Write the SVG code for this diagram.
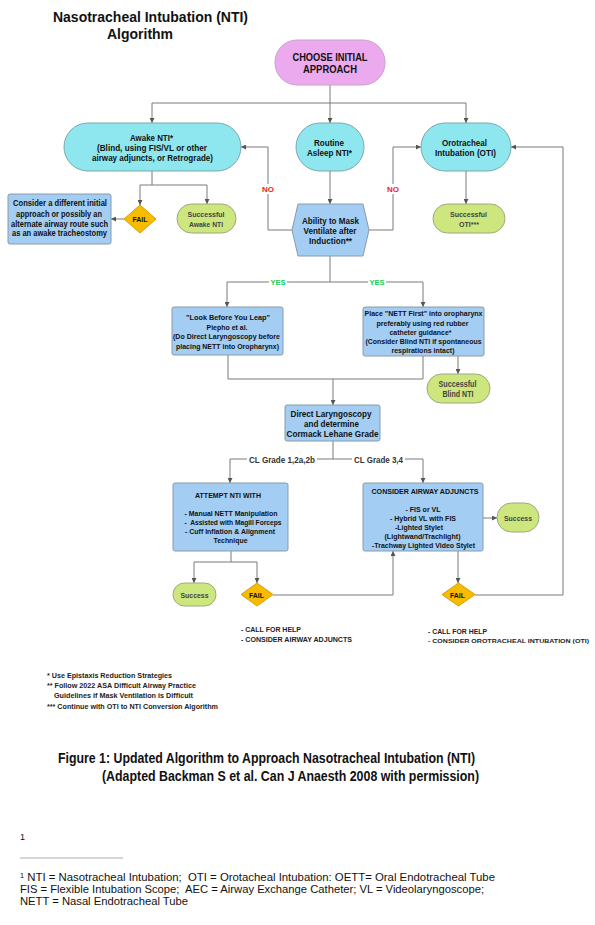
<svg xmlns="http://www.w3.org/2000/svg" width="595" height="925" viewBox="0 0 595 925">
<style>
.t{font-family:"Liberation Sans",Arial,sans-serif;font-weight:bold;text-anchor:middle;fill:#111}
.l{font-family:"Liberation Sans",Arial,sans-serif;font-weight:bold;fill:#222}
.c{fill:none;stroke:#7a7a7a;stroke-width:1}
.pink{fill:#ecaaee;stroke:#c9a0cc;stroke-width:1}
.cyan{fill:#8ee7ef;stroke:#7aa8ad;stroke-width:1}
.blue{fill:#a3cdf2;stroke:#8a9aaa;stroke-width:1}
.green{fill:#cde77e;stroke:#9aaa80;stroke-width:1}
.orange{fill:#f7bb00;stroke:#d8a000;stroke-width:1}
.g{fill:#444}
.bg{fill:#fff}
</style>
<defs>
<marker id="a" viewBox="0 0 6 6" refX="6" refY="3" markerWidth="5" markerHeight="5" orient="auto" markerUnits="userSpaceOnUse">
<path d="M0,0 L6,3 L0,6 z" fill="#555"/>
</marker>
</defs>
<rect width="595" height="925" fill="#fff"/>

<g id="title">
<text class="t" x="150.5" y="22" font-size="15" textLength="195" lengthAdjust="spacingAndGlyphs">Nasotracheal Intubation (NTI)</text>
<text class="t" x="140" y="39" font-size="15" textLength="66" lengthAdjust="spacingAndGlyphs">Algorithm</text>
</g>

<g id="connectors">
<path class="c" d="M330,85 V123" marker-end="url(#a)"/>
<path class="c" d="M152,103 H466"/>
<path class="c" d="M152,103 V123" marker-end="url(#a)"/>
<path class="c" d="M466,103 V123" marker-end="url(#a)"/>
<path class="c" d="M152,171 V185"/>
<path class="c" d="M140,185 H207"/>
<path class="c" d="M140,185 V205" marker-end="url(#a)"/>
<path class="c" d="M207,185 V204" marker-end="url(#a)"/>
<path class="c" d="M124,219 H111" marker-end="url(#a)"/>
<path class="c" d="M330,171 V204" marker-end="url(#a)"/>
<path class="c" d="M292,230 H268 V147 H241" marker-end="url(#a)"/>
<path class="c" d="M368,230 H393 V147 H421" marker-end="url(#a)"/>
<path class="c" d="M466,171 V204" marker-end="url(#a)"/>
<path class="c" d="M330,256 V282"/>
<path class="c" d="M227,282 H423"/>
<path class="c" d="M227,282 V307" marker-end="url(#a)"/>
<path class="c" d="M423,282 V307" marker-end="url(#a)"/>
<path class="c" d="M228,355 V379 H423 V356"/>
<path class="c" d="M333,379 V405" marker-end="url(#a)"/>
<path class="c" d="M458,356 V374" marker-end="url(#a)"/>
<path class="c" d="M333,441 V459"/>
<path class="c" d="M230,459 H423"/>
<path class="c" d="M230,459 V483" marker-end="url(#a)"/>
<path class="c" d="M423,459 V483" marker-end="url(#a)"/>
<path class="c" d="M483,518 H497" marker-end="url(#a)"/>
<path class="c" d="M231,551 V562"/>
<path class="c" d="M194,562 H257"/>
<path class="c" d="M194,562 V583" marker-end="url(#a)"/>
<path class="c" d="M257,562 V583" marker-end="url(#a)"/>
<path class="c" d="M273,595 H393 V551" marker-end="url(#a)"/>
<path class="c" d="M458,551 V583" marker-end="url(#a)"/>
<path class="c" d="M475,595 H563 V147 H511" marker-end="url(#a)"/>
<rect class="bg" x="261" y="184" width="14" height="10"/>
<text class="t" x="268" y="192" font-size="8" style="fill:#ee2222" textLength="12" lengthAdjust="spacingAndGlyphs">NO</text>
<rect class="bg" x="386" y="184" width="14" height="10"/>
<text class="t" x="393" y="192" font-size="8" style="fill:#ee2222" textLength="12" lengthAdjust="spacingAndGlyphs">NO</text>
<rect class="bg" x="269" y="277" width="18" height="10"/>
<text class="t" x="278" y="285" font-size="8" style="fill:#11cc55" textLength="15" lengthAdjust="spacingAndGlyphs">YES</text>
<rect class="bg" x="368" y="277" width="18" height="10"/>
<text class="t" x="377" y="285" font-size="8" style="fill:#11cc55" textLength="15" lengthAdjust="spacingAndGlyphs">YES</text>
<rect class="bg" x="247" y="454" width="70" height="11"/>
<text class="t" x="282" y="462.5" font-size="9" style="fill:#333" textLength="66" lengthAdjust="spacingAndGlyphs">CL Grade 1,2a,2b</text>
<rect class="bg" x="352" y="454" width="53" height="11"/>
<text class="t" x="378.5" y="462.5" font-size="9" style="fill:#333" textLength="49" lengthAdjust="spacingAndGlyphs">CL Grade 3,4</text>
</g>

<g id="choose">
<rect class="pink" x="275" y="40" width="110" height="45" rx="22"/>
<text class="t" x="330" y="61" font-size="10" textLength="75" lengthAdjust="spacingAndGlyphs">CHOOSE INITIAL</text>
<text class="t" x="330" y="73" font-size="10" textLength="54" lengthAdjust="spacingAndGlyphs">APPROACH</text>
</g>

<g id="awake">
<rect class="cyan" x="64" y="123" width="177" height="48" rx="24"/>
<text class="t" x="151.5" y="141" font-size="9" textLength="43" lengthAdjust="spacingAndGlyphs">Awake NTI*</text>
<text class="t" x="152" y="151" font-size="9" textLength="110" lengthAdjust="spacingAndGlyphs">(Blind, using FIS/VL or other</text>
<text class="t" x="152.5" y="161" font-size="9" textLength="121" lengthAdjust="spacingAndGlyphs">airway adjuncts, or Retrograde)</text>
</g>

<g id="routine">
<rect class="cyan" x="296" y="123" width="68" height="48" rx="24"/>
<text class="t" x="329" y="146" font-size="9" textLength="30" lengthAdjust="spacingAndGlyphs">Routine</text>
<text class="t" x="329.5" y="156" font-size="9" textLength="45" lengthAdjust="spacingAndGlyphs">Asleep NTI*</text>
</g>

<g id="oti">
<rect class="cyan" x="421" y="123" width="90" height="48" rx="24"/>
<text class="t" x="464.5" y="146" font-size="9" textLength="45" lengthAdjust="spacingAndGlyphs">Orotracheal</text>
<text class="t" x="465.5" y="156" font-size="9" textLength="61" lengthAdjust="spacingAndGlyphs">Intubation (OTI)</text>
</g>

<g id="consider-different">
<rect class="blue" x="8" y="194" width="103" height="50" rx="2"/>
<text class="t" x="60" y="206" font-size="8.5" textLength="94" lengthAdjust="spacingAndGlyphs">Consider a different initial</text>
<text class="t" x="59" y="216.5" font-size="8.5" textLength="86" lengthAdjust="spacingAndGlyphs">approach or possibly an</text>
<text class="t" x="59.5" y="226.5" font-size="8.5" textLength="97" lengthAdjust="spacingAndGlyphs">alternate airway route such</text>
<text class="t" x="59.5" y="236" font-size="8.5" textLength="95" lengthAdjust="spacingAndGlyphs">as an awake tracheostomy</text>
</g>

<g id="fail-awake">
<polygon class="orange" points="140,205 156,219 140,233 124,219"/>
<text class="t" x="140" y="222" font-size="8" textLength="15" lengthAdjust="spacingAndGlyphs">FAIL</text>
</g>

<g id="success-awake">
<rect class="green" x="177" y="204" width="59" height="29" rx="14.5"/>
<text class="t g" x="206" y="217" font-size="8" textLength="37" lengthAdjust="spacingAndGlyphs">Successful</text>
<text class="t g" x="206" y="227" font-size="8" textLength="34" lengthAdjust="spacingAndGlyphs">Awake NTI</text>
</g>

<g id="mask">
<polygon class="blue" points="298,204 363,204 369,230 363,256 298,256 292,230"/>
<text class="t" x="330.5" y="224" font-size="9" textLength="57" lengthAdjust="spacingAndGlyphs">Ability to Mask</text>
<text class="t" x="330" y="234" font-size="9" textLength="53" lengthAdjust="spacingAndGlyphs">Ventilate after</text>
<text class="t" x="330.5" y="244" font-size="9" textLength="43" lengthAdjust="spacingAndGlyphs">Induction**</text>
</g>

<g id="success-oti">
<rect class="green" x="433" y="204" width="72" height="29" rx="14.5"/>
<text class="t g" x="468.5" y="217" font-size="8" textLength="37" lengthAdjust="spacingAndGlyphs">Successful</text>
<text class="t g" x="469" y="227" font-size="8" textLength="20" lengthAdjust="spacingAndGlyphs">OTI***</text>
</g>

<g id="look">
<rect class="blue" x="172" y="307" width="111" height="48" rx="2"/>
<text class="t" x="228" y="320" font-size="8" textLength="84" lengthAdjust="spacingAndGlyphs">"Look Before You Leap"</text>
<text class="t" x="227" y="330" font-size="8" textLength="41" lengthAdjust="spacingAndGlyphs">Piepho et al.</text>
<text class="t" x="226.5" y="339" font-size="8" textLength="107" lengthAdjust="spacingAndGlyphs">(Do Direct Laryngoscopy before</text>
<text class="t" x="227.5" y="349" font-size="8" textLength="103" lengthAdjust="spacingAndGlyphs">placing NETT into Oropharynx)</text>
</g>

<g id="place">
<rect class="blue" x="363" y="307" width="121" height="49" rx="2"/>
<text class="t" x="423.5" y="316" font-size="8" textLength="118" lengthAdjust="spacingAndGlyphs">Place "NETT First" into oropharynx</text>
<text class="t" x="422.5" y="326" font-size="8" textLength="92" lengthAdjust="spacingAndGlyphs">preferably using red rubber</text>
<text class="t" x="420.5" y="335" font-size="8" textLength="62" lengthAdjust="spacingAndGlyphs">catheter guidance*</text>
<text class="t" x="423.5" y="344" font-size="8" textLength="116" lengthAdjust="spacingAndGlyphs">(Consider Blind NTI if spontaneous</text>
<text class="t" x="423" y="353" font-size="8" textLength="63" lengthAdjust="spacingAndGlyphs">respirations intact)</text>
</g>

<g id="success-blind">
<rect class="green" x="427" y="374" width="63" height="29" rx="14.5"/>
<text class="t g" x="457.5" y="387" font-size="8.5" textLength="38" lengthAdjust="spacingAndGlyphs">Successful</text>
<text class="t g" x="458" y="397" font-size="8.5" textLength="31" lengthAdjust="spacingAndGlyphs">Blind NTI</text>
</g>

<g id="dl">
<rect class="blue" x="285" y="405" width="95" height="36" rx="2"/>
<text class="t" x="331" y="416.5" font-size="9.5" textLength="81" lengthAdjust="spacingAndGlyphs">Direct Laryngoscopy</text>
<text class="t" x="331.5" y="426.5" font-size="9.5" textLength="55" lengthAdjust="spacingAndGlyphs">and determine</text>
<text class="t" x="332.5" y="437" font-size="9.5" textLength="92" lengthAdjust="spacingAndGlyphs">Cormack Lehane Grade</text>
</g>

<g id="attempt">
<rect class="blue" x="173" y="483" width="115" height="68" rx="2"/>
<text class="t" x="228" y="498" font-size="8" textLength="66" lengthAdjust="spacingAndGlyphs">ATTEMPT NTI WITH</text>
<text class="t" x="231" y="516" font-size="8" textLength="93" lengthAdjust="spacingAndGlyphs">- Manual NETT Manipulation</text>
<text class="t" x="233" y="525" font-size="8" xml:space="preserve" textLength="97" lengthAdjust="spacingAndGlyphs">-  Assisted with Magill Forceps</text>
<text class="t" x="230" y="534" font-size="8" textLength="90" lengthAdjust="spacingAndGlyphs">- Cuff Inflation &amp; Alignment</text>
<text class="t" x="230.5" y="543" font-size="8" textLength="34" lengthAdjust="spacingAndGlyphs">Technique</text>
</g>

<g id="adjuncts">
<rect class="blue" x="363" y="483" width="120" height="68" rx="2"/>
<text class="t" x="425" y="494" font-size="8" textLength="107" lengthAdjust="spacingAndGlyphs">CONSIDER AIRWAY ADJUNCTS</text>
<text class="t" x="423" y="512" font-size="8" textLength="35" lengthAdjust="spacingAndGlyphs">- FIS or VL</text>
<text class="t" x="423" y="521" font-size="8" textLength="66" lengthAdjust="spacingAndGlyphs">- Hybrid VL with FIS</text>
<text class="t" x="419" y="530" font-size="8" textLength="48" lengthAdjust="spacingAndGlyphs">-Lighted Stylet</text>
<text class="t" x="422.5" y="539" font-size="8" textLength="76" lengthAdjust="spacingAndGlyphs">(Lightwand/Trachlight)</text>
<text class="t" x="423.5" y="548" font-size="8" textLength="103" lengthAdjust="spacingAndGlyphs">-Trachway Lighted Video Stylet</text>
</g>

<g id="success-adjuncts">
<rect class="green" x="497" y="503" width="42" height="29" rx="14.5"/>
<text class="t g" x="518" y="521" font-size="8" textLength="28" lengthAdjust="spacingAndGlyphs">Success</text>
</g>

<g id="success-attempt">
<rect class="green" x="173" y="583" width="43" height="23" rx="11.5"/>
<text class="t g" x="194.5" y="597.5" font-size="8" textLength="28" lengthAdjust="spacingAndGlyphs">Success</text>
</g>

<g id="fail-attempt">
<polygon class="orange" points="257,583 273,594.5 257,606 241,594.5"/>
<text class="t" x="256.5" y="597.5" font-size="8" textLength="15" lengthAdjust="spacingAndGlyphs">FAIL</text>
</g>

<g id="fail-adjuncts">
<polygon class="orange" points="458.5,583 475,594.5 458.5,606 442,594.5"/>
<text class="t" x="457.5" y="597.5" font-size="8" textLength="15" lengthAdjust="spacingAndGlyphs">FAIL</text>
</g>

<g id="notes">
<text class="l" x="241" y="632" font-size="8" textLength="60" lengthAdjust="spacingAndGlyphs">- CALL FOR HELP</text>
<text class="l" x="241" y="642" font-size="8" textLength="111" lengthAdjust="spacingAndGlyphs">- CONSIDER AIRWAY ADJUNCTS</text>
<text class="l" x="428" y="633.5" font-size="8" textLength="59" lengthAdjust="spacingAndGlyphs">- CALL FOR HELP</text>
<text class="l" x="428" y="643" font-size="5.8" textLength="161" lengthAdjust="spacingAndGlyphs">- CONSIDER OROTRACHEAL INTUBATION (OTI)</text>
<text class="l" x="47" y="678" font-size="8" textLength="125" lengthAdjust="spacingAndGlyphs">* Use Epistaxis Reduction Strategies</text>
<text class="l" x="47" y="688" font-size="8" textLength="149" lengthAdjust="spacingAndGlyphs">** Follow 2022 ASA Difficult Airway Practice</text>
<text class="l" x="54" y="698" font-size="8" textLength="139" lengthAdjust="spacingAndGlyphs">Guidelines if Mask Ventilation is Difficult</text>
<text class="l" x="47" y="709" font-size="8" textLength="171" lengthAdjust="spacingAndGlyphs">*** Continue with OTI to NTI Conversion Algorithm</text>
</g>

<g id="caption">
<text class="l" x="58" y="763" font-size="15" style="fill:#111" textLength="417" lengthAdjust="spacingAndGlyphs">Figure 1: Updated Algorithm to Approach Nasotracheal Intubation (NTI)</text>
<text class="l" x="102" y="780.5" font-size="15" style="fill:#111" textLength="377" lengthAdjust="spacingAndGlyphs">(Adapted Backman S et al. Can J Anaesth 2008 with permission)</text>
</g>

<g id="footnote">
<text x="20" y="840" font-family="Liberation Sans, Arial, sans-serif" font-size="9" fill="#111">1</text>
<line x1="20" y1="858" x2="123" y2="858" stroke="#999" stroke-width="0.8"/>
<text x="20" y="881" font-family="Liberation Sans, Arial, sans-serif" font-size="11.5" fill="#111" xml:space="preserve" textLength="475" lengthAdjust="spacingAndGlyphs"><tspan font-size="7.5" dy="-3">1</tspan><tspan dy="3"> NTI = Nasotracheal Intubation;  OTI = Orotacheal Intubation: OETT= Oral Endotracheal Tube</tspan></text>
<text x="20" y="893" font-family="Liberation Sans, Arial, sans-serif" font-size="11.5" fill="#111" xml:space="preserve" textLength="464" lengthAdjust="spacingAndGlyphs">FIS = Flexible Intubation Scope;  AEC = Airway Exchange Catheter; VL = Videolaryngoscope;</text>
<text x="20" y="905" font-family="Liberation Sans, Arial, sans-serif" font-size="11.5" fill="#111" textLength="168" lengthAdjust="spacingAndGlyphs">NETT = Nasal Endotracheal Tube</text>
</g>
</svg>
